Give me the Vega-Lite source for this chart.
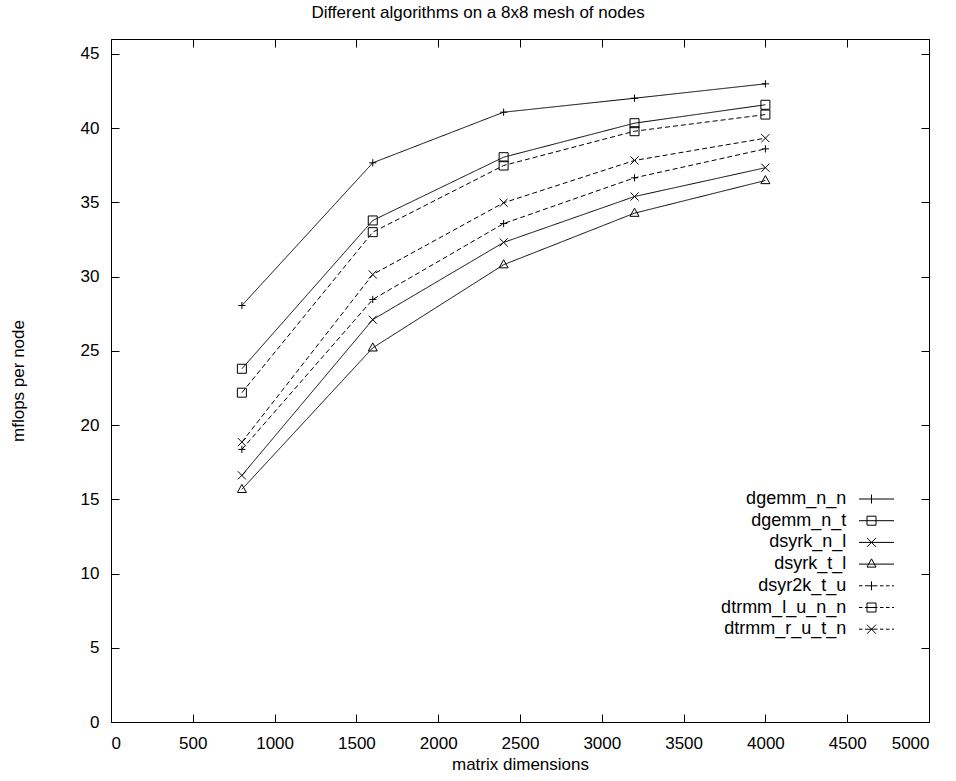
{
  "$schema": "https://vega.github.io/schema/vega-lite/v6.json",
  "autosize": {"type": "none"},
  "padding": {"left": 111, "top": 39, "right": 27, "bottom": 60},
  "width": 818,
  "height": 683,
  "background": "white",
  "title": {"text": "Different algorithms on a 8x8 mesh of nodes", "fontSize": 17, "font": "Liberation Sans", "fontWeight": "normal", "color": "black", "anchor": "middle", "dx": -42, "offset": 17},
  "data": {"values": [
    {"series": "dgemm_n_n", "n": 800, "mflops": 28.05},
    {"series": "dgemm_n_n", "n": 1600, "mflops": 37.66},
    {"series": "dgemm_n_n", "n": 2400, "mflops": 41.07},
    {"series": "dgemm_n_n", "n": 3200, "mflops": 42.01},
    {"series": "dgemm_n_n", "n": 4000, "mflops": 42.98},
    {"series": "dgemm_n_t", "n": 800, "mflops": 23.79},
    {"series": "dgemm_n_t", "n": 1600, "mflops": 33.78},
    {"series": "dgemm_n_t", "n": 2400, "mflops": 38.04},
    {"series": "dgemm_n_t", "n": 3200, "mflops": 40.33},
    {"series": "dgemm_n_t", "n": 4000, "mflops": 41.57},
    {"series": "dsyrk_n_l", "n": 800, "mflops": 16.61},
    {"series": "dsyrk_n_l", "n": 1600, "mflops": 27.1},
    {"series": "dsyrk_n_l", "n": 2400, "mflops": 32.3},
    {"series": "dsyrk_n_l", "n": 3200, "mflops": 35.39},
    {"series": "dsyrk_n_l", "n": 4000, "mflops": 37.33},
    {"series": "dsyrk_t_l", "n": 800, "mflops": 15.67},
    {"series": "dsyrk_t_l", "n": 1600, "mflops": 25.2},
    {"series": "dsyrk_t_l", "n": 2400, "mflops": 30.8},
    {"series": "dsyrk_t_l", "n": 3200, "mflops": 34.27},
    {"series": "dsyrk_t_l", "n": 4000, "mflops": 36.47},
    {"series": "dsyr2k_t_u", "n": 800, "mflops": 18.36},
    {"series": "dsyr2k_t_u", "n": 1600, "mflops": 28.46},
    {"series": "dsyr2k_t_u", "n": 2400, "mflops": 33.57},
    {"series": "dsyr2k_t_u", "n": 3200, "mflops": 36.65},
    {"series": "dsyr2k_t_u", "n": 4000, "mflops": 38.6},
    {"series": "dtrmm_l_u_n_n", "n": 800, "mflops": 22.18},
    {"series": "dtrmm_l_u_n_n", "n": 1600, "mflops": 32.99},
    {"series": "dtrmm_l_u_n_n", "n": 2400, "mflops": 37.48},
    {"series": "dtrmm_l_u_n_n", "n": 3200, "mflops": 39.79},
    {"series": "dtrmm_l_u_n_n", "n": 4000, "mflops": 40.91},
    {"series": "dtrmm_r_u_t_n", "n": 800, "mflops": 18.85},
    {"series": "dtrmm_r_u_t_n", "n": 1600, "mflops": 30.14},
    {"series": "dtrmm_r_u_t_n", "n": 2400, "mflops": 34.97},
    {"series": "dtrmm_r_u_t_n", "n": 3200, "mflops": 37.82},
    {"series": "dtrmm_r_u_t_n", "n": 4000, "mflops": 39.32}
  ]},
  "layer": [
    {
      "mark": {"type": "line", "color": "black", "strokeWidth": 1},
      "encoding": {
        "x": {"field": "n", "type": "quantitative", "scale": {"domain": [0, 5000], "nice": false, "zero": false},
              "axis": {"orient": "bottom", "values": [0,500,1000,1500,2000,2500,3000,3500,4000,4500,5000], "format": "d", "title": "matrix dimensions", "titlePadding": 5, "labelPadding": 21}},
        "y": {"field": "mflops", "type": "quantitative", "scale": {"domain": [0, 46], "nice": false, "zero": false},
              "axis": {"orient": "left", "values": [0,5,10,15,20,25,30,35,40,45], "format": "d", "title": "mflops per node", "titlePadding": 53, "labelPadding": 20}},
        "strokeDash": {"field": "series", "type": "nominal",
              "scale": {"domain": ["dgemm_n_n","dgemm_n_t","dsyrk_n_l","dsyrk_t_l","dsyr2k_t_u","dtrmm_l_u_n_n","dtrmm_r_u_t_n"],
                        "range": [[1,0],[1,0],[1,0],[1,0],[5,3],[5,3],[5,3]]},
              "legend": null},
        "detail": {"field": "series"}
      }
    },
    {
      "mark": {"type": "point", "filled": false, "color": "black", "strokeWidth": 1, "size": 81, "opacity": 1},
      "encoding": {
        "x": {"field": "n", "type": "quantitative",
              "axis": {"orient": "top", "values": [0,500,1000,1500,2000,2500,3000,3500,4000,4500,5000], "labels": false, "title": null}},
        "y": {"field": "mflops", "type": "quantitative",
              "axis": {"orient": "right", "values": [0,5,10,15,20,25,30,35,40,45], "labels": false, "title": null}},
        "shape": {"field": "series", "type": "nominal",
              "scale": {"domain": ["dgemm_n_n","dgemm_n_t","dsyrk_n_l","dsyrk_t_l","dsyr2k_t_u","dtrmm_l_u_n_n","dtrmm_r_u_t_n"],
                        "range": ["M-0.8,0L0.8,0M0,-0.8L0,0.8", "M-1,-1L1,-1L1,1L-1,1Z", "M-0.9,-0.9L0.9,0.9M-0.9,0.9L0.9,-0.9", "M0,-1.1L-1,0.7L1,0.7Z",
                                  "M-0.8,0L0.8,0M0,-0.8L0,0.8", "M-1,-1L1,-1L1,1L-1,1Z", "M-0.9,-0.9L0.9,0.9M-0.9,0.9L0.9,-0.9"]},
              "legend": null}
      }
    },
    {
      "transform": [{"filter": "false"}],
      "mark": {"type": "point", "filled": false, "color": "black", "strokeWidth": 1, "size": 100, "opacity": 1},
      "encoding": {
        "shape": {"field": "series", "type": "nominal",
              "scale": {"domain": ["dgemm_n_n","dgemm_n_t","dsyrk_n_l","dsyrk_t_l","dsyr2k_t_u","dtrmm_l_u_n_n","dtrmm_r_u_t_n"],
                        "range": [
                          "M-3.5,0L3.5,0M-1,-0.9L-1,0.9",
                          "M-3.5,0L3.5,0M-1.9,-0.9L-0.1,-0.9L-0.1,0.9L-1.9,0.9Z",
                          "M-3.5,0L3.5,0M-1.9,-0.9L-0.1,0.9M-1.9,0.9L-0.1,-0.9",
                          "M-3.5,0L3.5,0M-1,-1.05L-1.9,0.6L-0.1,0.6Z",
                          "M-3.5,0L-2.8,0M-2.3,0L0.2,0M0.7,0L1.4,0M1.9,0L2.6,0M3.1,0L3.5,0M-1,-0.9L-1,0.9",
                          "M-3.5,0L-2.8,0M-2.3,0L0.2,0M0.7,0L1.4,0M1.9,0L2.6,0M3.1,0L3.5,0M-1.9,-0.9L-0.1,-0.9L-0.1,0.9L-1.9,0.9Z",
                          "M-3.5,0L-2.8,0M-2.3,0L0.2,0M0.7,0L1.4,0M1.9,0L2.6,0M3.1,0L3.5,0M-1.9,-0.9L-0.1,0.9M-1.9,0.9L-0.1,-0.9"
                        ]},
              "legend": {"orient": "none", "legendX": 746, "legendY": 451, "title": null, "symbolSize": 100, "symbolOffset": 10.5,
                         "symbolStrokeColor": "black", "symbolStrokeWidth": 1, "symbolOpacity": 1,
                         "labelAlign": "right", "labelOffset": -39.3, "labelFontSize": 18, "labelFont": "Liberation Sans", "labelColor": "black",
                         "rowPadding": 3.7, "padding": 0, "labelLimit": 300}}
      }
    }
  ],
  "resolve": {"scale": {"shape": "independent"}, "axis": {"x": "independent", "y": "independent"}},
  "config": {
    "view": {"stroke": "black", "strokeWidth": 1},
    "axis": {"domain": false, "grid": false, "tickSize": -8, "tickColor": "black", "tickWidth": 1,
             "labelFont": "Liberation Sans", "labelFontSize": 17, "labelColor": "black", "labelPadding": 12,
             "titleFont": "Liberation Sans", "titleFontSize": 17, "titleFontWeight": "normal", "titleColor": "black"}
  }
}
